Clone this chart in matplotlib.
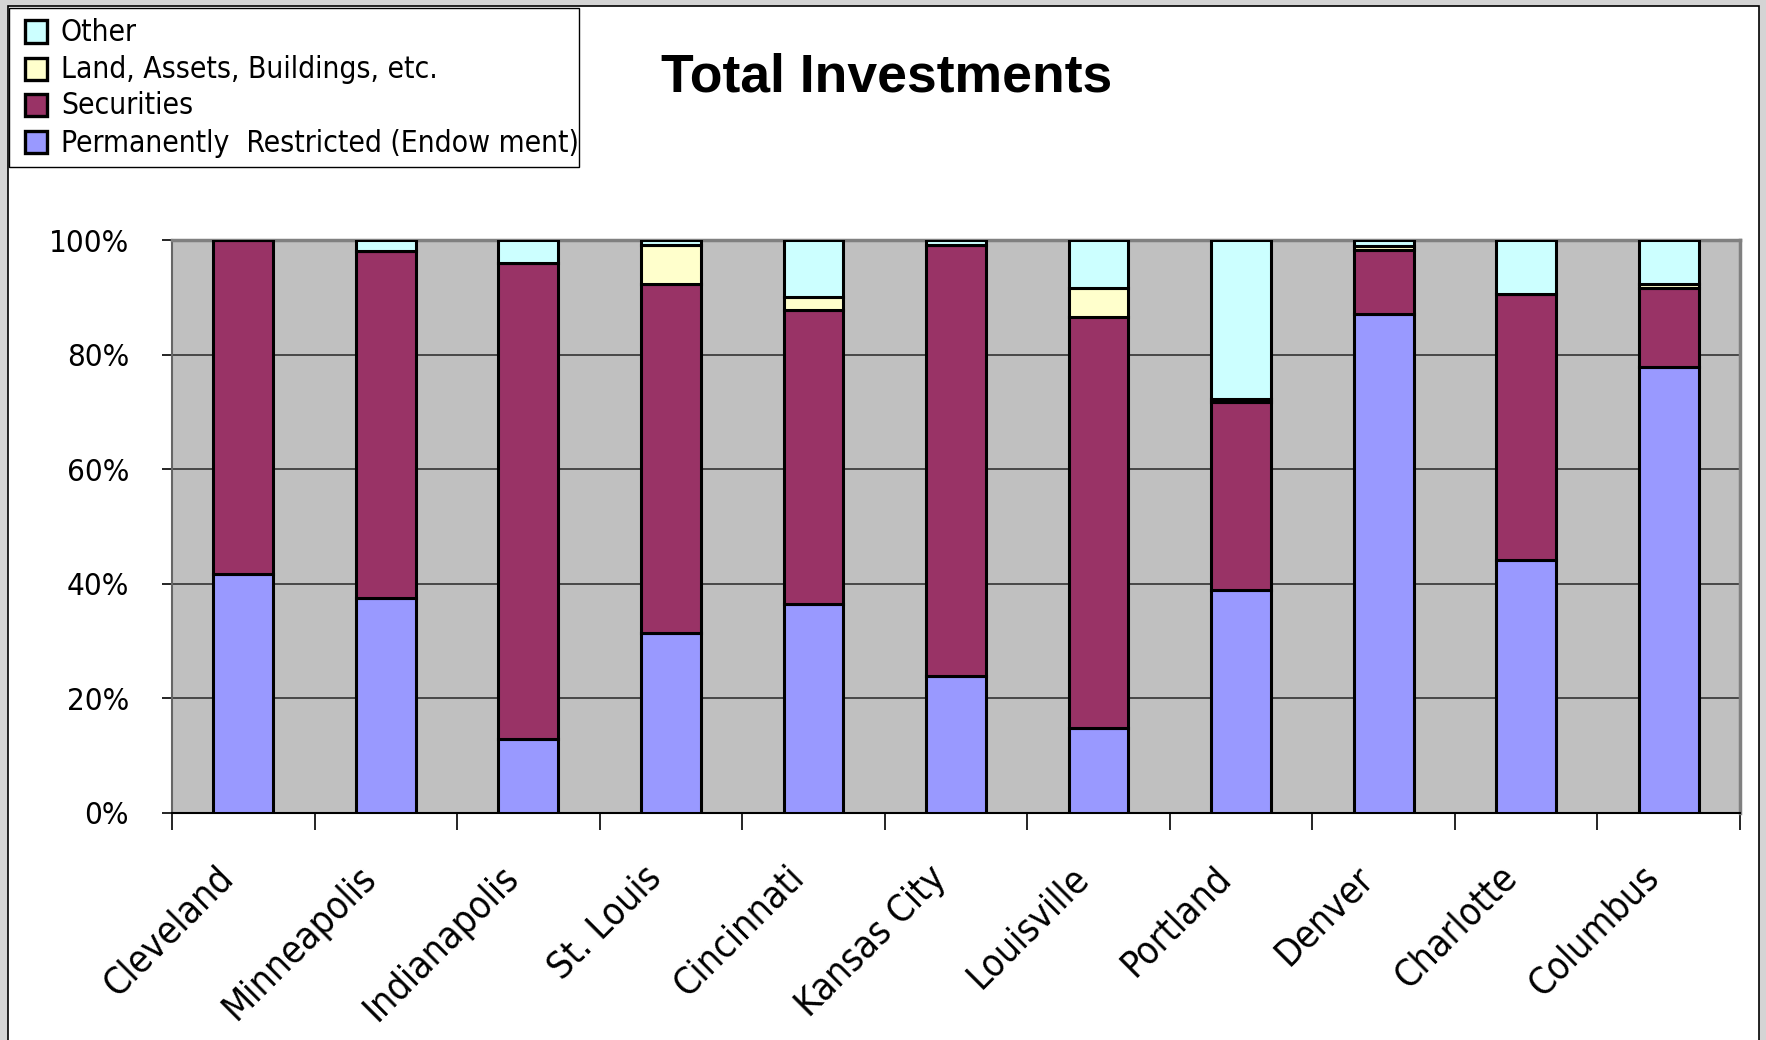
import matplotlib
matplotlib.use("Agg")
import matplotlib.pyplot as plt
import matplotlib.transforms as mtransforms
import numpy as np
from matplotlib.patches import Rectangle
from matplotlib import font_manager

# Share of total investments by fund, in percent
cities = ["Cleveland", "Minneapolis", "Indianapolis", "St. Louis", "Cincinnati",
          "Kansas City", "Louisville", "Portland", "Denver", "Charlotte", "Columbus"]
endowment = [41.7, 37.6, 12.9, 31.4, 36.5, 23.9, 14.9, 38.9, 87.1, 44.1, 77.8]
securities = [58.3, 60.5, 83.0, 60.9, 51.2, 75.3, 71.6, 32.9, 11.2, 46.5, 13.8]
land = [0.0, 0.0, 0.0, 6.8, 2.4, 0.0, 5.2, 0.5, 0.7, 0.0, 0.7]
other = [0.0, 1.9, 4.1, 0.9, 9.9, 0.8, 8.3, 27.7, 1.0, 9.4, 7.7]

series_names = ["Permanently  Restricted (Endow ment)", "Securities",
                "Land, Assets, Buildings, etc.", "Other"]
series_colors = ["#9999FF", "#993366", "#FFFFCC", "#CCFFFF"]
y_ticks = [0, 20, 40, 60, 80, 100]
y_tick_labels = ["0%", "20%", "40%", "60%", "80%", "100%"]

W, H = 1766, 1040

# pick a narrow sans face if one is installed
names = {f.name for f in font_manager.fontManager.ttflist}
narrow_stretch = "normal"
if "Liberation Sans Narrow" in names:
    narrow = ["Liberation Sans Narrow", "DejaVu Sans"]
else:
    narrow = ["DejaVu Sans"]
    if any(f.name == "DejaVu Sans" and f.stretch == "condensed"
           for f in font_manager.fontManager.ttflist):
        narrow_stretch = "condensed"

fig = plt.figure(figsize=(W / 100, H / 100), dpi=100)
fig.patch.set_facecolor("#D4D4D4")

# white chart sheet with a thin black frame
sheet = Rectangle((8 / W, -0.01), (1759 - 8) / W, 1.01 - 6 / H,
                  transform=fig.transFigure, facecolor="white",
                  edgecolor="black", linewidth=1.2, zorder=-10)
fig.patches.append(sheet)

ax = fig.add_axes([172 / W, 1 - 813 / H, (1740 - 172) / W, (813 - 240) / H])
ax.set_facecolor("#C0C0C0")

x = np.arange(len(cities))
stack = [endowment, securities, land, other]
bottom = np.zeros(len(cities))
bar_groups = []
for vals, name, col in zip(stack, series_names, series_colors):
    vals = np.asarray(vals, dtype=float)
    bars = ax.bar(x, vals, width=0.42, bottom=bottom, color=col,
                  edgecolor="black", linewidth=2.2, label=name, zorder=3)
    bar_groups.append(bars)
    bottom += vals

ax.set_xlim(-0.5, len(cities) - 0.5)
ax.set_ylim(0, 100)

# gridlines
for yv in y_ticks[1:-1]:
    ax.axhline(yv, color="#333333", linewidth=1.2, zorder=1)

ax.set_yticks(y_ticks)
ax.set_yticklabels(y_tick_labels, family=narrow, stretch=narrow_stretch,
                   fontsize=22.5)
ax.tick_params(axis="y", direction="out", length=7, width=1.2, pad=24,
               color="black")

# category labels at centres, tick marks at category boundaries
ax.set_xticks(x)
ax.set_xticklabels(cities, family=narrow, stretch=narrow_stretch, fontsize=27,
                   rotation=45, ha="right", rotation_mode="anchor")
ax.tick_params(axis="x", which="major", length=0, pad=40)
shift = mtransforms.ScaledTranslation(-0.28, 0.09, fig.dpi_scale_trans)
for lab in ax.get_xticklabels():
    lab.set_transform(lab.get_transform() + shift)
ax.set_xticks(np.arange(-0.5, len(cities), 1.0), minor=True)
ax.tick_params(axis="x", which="minor", direction="out", length=12,
               width=1.2, color="black")

for side in ["top", "right"]:
    ax.spines[side].set_color("#808080")
    ax.spines[side].set_linewidth(2.5)
ax.spines["left"].set_color("#666666")
ax.spines["left"].set_linewidth(1.5)
ax.spines["bottom"].set_color("black")
ax.spines["bottom"].set_linewidth(1.5)

# title
fig.text(887 / W, 1 - 78 / H, "Total Investments", ha="center", va="center",
         fontsize=38.5, fontweight="bold",
         family=["Liberation Sans", "DejaVu Sans"])

# legend box, top series first
box = Rectangle((9 / W, 1 - 167 / H), (579 - 9) / W, (167 - 8) / H,
                transform=fig.transFigure, facecolor="white",
                edgecolor="black", linewidth=1.0, zorder=5)
fig.patches.append(box)
row_y = [31.5, 68.5, 105, 142]
for yy, name, bars in zip(row_y, series_names[::-1], bar_groups[::-1]):
    col = bars.patches[0].get_facecolor()
    fig.patches.append(Rectangle((25 / W, 1 - (yy + 11) / H), 22 / W, 22 / H,
                                 transform=fig.transFigure, facecolor=col,
                                 edgecolor="black", linewidth=2.4, zorder=6))
    fig.text(61 / W, 1 - (yy + 1) / H, name, ha="left", va="center",
             family=narrow, stretch=narrow_stretch, fontsize=21.5, zorder=7)

fig.savefig("out.png", dpi=100, facecolor=fig.get_facecolor())
